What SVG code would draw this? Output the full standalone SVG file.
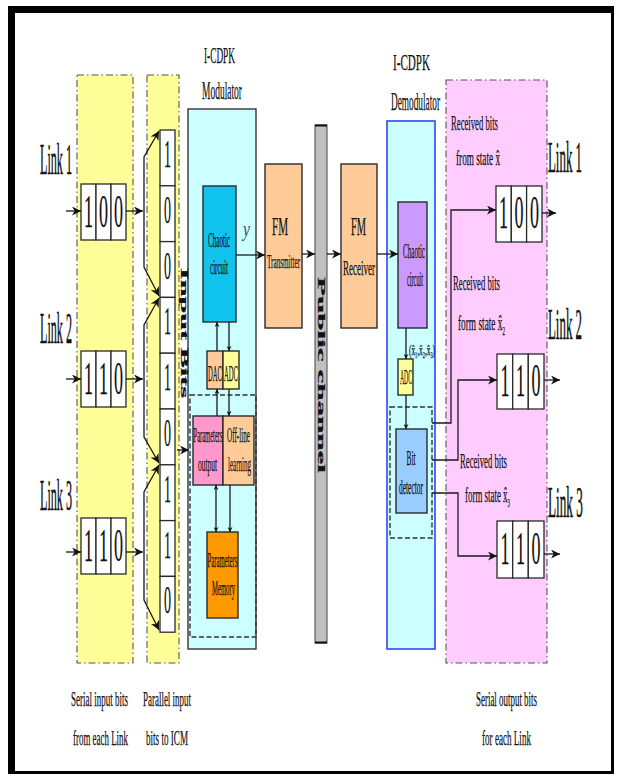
<svg xmlns="http://www.w3.org/2000/svg" width="617" height="777" viewBox="0 0 617 777">
<defs>
<style>
.t{font-family:"Liberation Serif","Times New Roman",serif;fill:#111;stroke:#111;stroke-width:0.25}
.lk{font-family:"Liberation Serif","Times New Roman",serif;fill:#111;stroke:#111;stroke-width:0.6;font-size:44px}
.b{stroke:#2a2a2a;stroke-width:1.4}
.dd{fill:none;stroke:#555;stroke-width:1.1;stroke-dasharray:7,3,1.5,3}
.ds{fill:none;stroke:#333;stroke-width:1.4;stroke-dasharray:5,2.5}
.c{fill:none;stroke:#1a1a1a;stroke-width:1.3}
.cell{fill:#fff;stroke:#2a2a2a;stroke-width:1.3}
</style>
<marker id="ah" viewBox="0 0 10 10" refX="10" refY="5" markerWidth="10" markerHeight="9" markerUnits="userSpaceOnUse" orient="auto-start-reverse"><path d="M0,0 L10,5 L0,10 L3,5 Z" fill="#111"/></marker>
<marker id="as" viewBox="0 0 10 10" refX="10" refY="5" markerWidth="6" markerHeight="5" markerUnits="userSpaceOnUse" orient="auto-start-reverse"><path d="M0,0 L10,5 L0,10 L3,5 Z" fill="#111"/></marker>
</defs>
<rect width="617" height="777" fill="#fff"/>
<g id="frame">
<line x1="11.5" y1="6" x2="11.5" y2="774" stroke="#000" stroke-width="7"/>
<line x1="8" y1="9.5" x2="614" y2="9.5" stroke="#000" stroke-width="7"/>
<line x1="612.5" y1="6" x2="612.5" y2="774" stroke="#000" stroke-width="3"/>
<line x1="8" y1="772.5" x2="614" y2="772.5" stroke="#000" stroke-width="3"/>
</g>

<g id="serial-input-area">
<rect x="77" y="75" width="56" height="588" fill="#ffff99"/>
<rect x="77" y="75" width="56" height="588" class="dd"/>
</g>
<g id="parallel-input-area">
<rect x="147" y="75" width="32" height="588" fill="#ffff99"/>
<rect x="147" y="75" width="32" height="588" class="dd"/>
</g>
<g id="output-area">
<rect x="446" y="80" width="101" height="583" fill="#ffccff"/>
<rect x="446" y="80" width="101" height="583" class="dd"/>
</g>

<g id="modulator">
<rect x="188" y="109" width="68" height="540" fill="#ccffff" stroke="#333" stroke-width="1.4"/>
<text class="t" x="204" y="63" font-size="24" textLength="31" lengthAdjust="spacingAndGlyphs">I-CDPK</text>
<text class="t" x="202" y="99" font-size="26" textLength="40" lengthAdjust="spacingAndGlyphs">Modulator</text>
<rect x="190" y="395" width="66" height="242" class="ds"/>
</g>
<g id="mod-chaotic">
<rect x="203" y="186" width="33" height="136" fill="#11c4ee" class="b"/>
<text class="t" x="208" y="247" font-size="22" textLength="22" lengthAdjust="spacingAndGlyphs">Chaotic</text>
<text class="t" x="210" y="274" font-size="22" textLength="18" lengthAdjust="spacingAndGlyphs">circuit</text>
</g>
<g id="mod-dac">
<rect x="207" y="351" width="16" height="38" fill="#ffcc99" class="b"/>
<text class="t" x="208" y="381" font-size="24" textLength="14" lengthAdjust="spacingAndGlyphs">DAC</text>
</g>
<g id="mod-adc">
<rect x="223" y="351" width="16" height="38" fill="#ffff99" class="b"/>
<text class="t" x="224" y="381" font-size="24" textLength="14" lengthAdjust="spacingAndGlyphs">ADC</text>
</g>
<g id="param-output">
<rect x="193" y="416" width="30" height="69" fill="#ff99cc" class="b"/>
<text class="t" x="193.5" y="442" font-size="21" textLength="29" lengthAdjust="spacingAndGlyphs">Parameters</text>
<text class="t" x="198" y="471" font-size="21" textLength="19" lengthAdjust="spacingAndGlyphs">output</text>
</g>
<g id="offline-learning">
<rect x="223" y="416" width="31" height="69" fill="#ffcc99" class="b"/>
<text class="t" x="227" y="442" font-size="21" textLength="23" lengthAdjust="spacingAndGlyphs">Off-line</text>
<text class="t" x="228" y="471" font-size="21" textLength="23" lengthAdjust="spacingAndGlyphs">learning</text>
</g>
<g id="param-memory">
<rect x="207" y="532" width="31" height="86" fill="#ff9900" class="b"/>
<text class="t" x="207.5" y="567" font-size="21" textLength="30" lengthAdjust="spacingAndGlyphs">Parameters</text>
<text class="t" x="212" y="595" font-size="21" textLength="23" lengthAdjust="spacingAndGlyphs">Memory</text>
</g>

<g id="fm-transmitter">
<rect x="265" y="164" width="37" height="164" fill="#ffcc99" class="b"/>
<text class="t" x="272" y="235" font-size="26" textLength="16" lengthAdjust="spacingAndGlyphs">FM</text>
<text class="t" x="267" y="268" font-size="19" textLength="33" lengthAdjust="spacingAndGlyphs">Transmitter</text>
</g>
<g id="public-channel">
<rect x="315" y="125" width="12" height="518" fill="#c0c0c0" stroke="#444" stroke-width="1"/>
<line x1="315" y1="125.5" x2="327" y2="125.5" stroke="#111" stroke-width="2"/>
<line x1="315" y1="642.5" x2="327" y2="642.5" stroke="#111" stroke-width="2"/>
<text class="t" transform="translate(317.5,277) rotate(90)" x="0" y="0" font-size="11" font-weight="bold" textLength="196" lengthAdjust="spacingAndGlyphs">Public channel</text>
</g>
<g id="fm-receiver">
<rect x="341" y="164" width="36" height="164" fill="#ffcc99" class="b"/>
<text class="t" x="351" y="235" font-size="26" textLength="15" lengthAdjust="spacingAndGlyphs">FM</text>
<text class="t" x="343" y="275" font-size="21" textLength="32" lengthAdjust="spacingAndGlyphs">Receiver</text>
</g>

<g id="demodulator">
<rect x="387" y="121" width="48" height="528" fill="#ccffff" stroke="#3344ff" stroke-width="1.6"/>
<text class="t" x="393" y="70" font-size="24" textLength="37" lengthAdjust="spacingAndGlyphs">I-CDPK</text>
<text class="t" x="391" y="110" font-size="26" textLength="49" lengthAdjust="spacingAndGlyphs">Demodulator</text>
<rect x="390" y="407" width="42" height="131" class="ds"/>
</g>
<g id="demod-chaotic">
<rect x="398" y="202" width="29" height="126" fill="#cc99ff" class="b"/>
<text class="t" x="403" y="258" font-size="22" textLength="22" lengthAdjust="spacingAndGlyphs">Chaotic</text>
<text class="t" x="407" y="286" font-size="22" textLength="16" lengthAdjust="spacingAndGlyphs">circuit</text>
<text class="t" x="409" y="355" font-size="15" textLength="26" lengthAdjust="spacingAndGlyphs">(x̂<tspan font-size="9" dy="3">1</tspan><tspan dy="-3">,x̂</tspan><tspan font-size="9" dy="3">2</tspan><tspan dy="-3">,x̂</tspan><tspan font-size="9" dy="3">3</tspan><tspan dy="-3">)</tspan></text>
</g>
<g id="demod-adc">
<rect x="398" y="359" width="15" height="36" fill="#ffff99" class="b"/>
<text class="t" x="400" y="384" font-size="22" textLength="12" lengthAdjust="spacingAndGlyphs">ADC</text>
</g>
<g id="bit-detector">
<rect x="396" y="429" width="31" height="84" fill="#99ccff" class="b"/>
<text class="t" x="406.5" y="465" font-size="21" textLength="9" lengthAdjust="spacingAndGlyphs">Bit</text>
<text class="t" x="399" y="494" font-size="21" textLength="24" lengthAdjust="spacingAndGlyphs">detector</text>
</g>

<g id="link1-in">
<text class="lk" transform="translate(40,174) scale(0.276,1)">Link 1</text>
<rect x="81" y="184" width="15" height="56" class="cell"/><rect x="96" y="184" width="15" height="56" class="cell"/><rect x="111" y="184" width="15" height="56" class="cell"/>
<text class="t" x="84" y="227" font-size="46" textLength="9" lengthAdjust="spacingAndGlyphs">1</text>
<text class="t" x="99" y="227" font-size="46" textLength="9" lengthAdjust="spacingAndGlyphs">0</text>
<text class="t" x="114" y="227" font-size="46" textLength="9" lengthAdjust="spacingAndGlyphs">0</text>
</g>
<g id="link2-in">
<text class="lk" transform="translate(40,343) scale(0.276,1)">Link 2</text>
<rect x="81" y="351" width="15" height="56" class="cell"/><rect x="96" y="351" width="15" height="56" class="cell"/><rect x="111" y="351" width="15" height="56" class="cell"/>
<text class="t" x="84" y="394" font-size="46" textLength="9" lengthAdjust="spacingAndGlyphs">1</text>
<text class="t" x="99" y="394" font-size="46" textLength="9" lengthAdjust="spacingAndGlyphs">1</text>
<text class="t" x="114" y="394" font-size="46" textLength="9" lengthAdjust="spacingAndGlyphs">0</text>
</g>
<g id="link3-in">
<text class="lk" transform="translate(40,510) scale(0.276,1)">Link 3</text>
<rect x="81" y="518" width="15" height="56" class="cell"/><rect x="96" y="518" width="15" height="56" class="cell"/><rect x="111" y="518" width="15" height="56" class="cell"/>
<text class="t" x="84" y="561" font-size="46" textLength="9" lengthAdjust="spacingAndGlyphs">1</text>
<text class="t" x="99" y="561" font-size="46" textLength="9" lengthAdjust="spacingAndGlyphs">1</text>
<text class="t" x="114" y="561" font-size="46" textLength="9" lengthAdjust="spacingAndGlyphs">0</text>
</g>

<g id="input-bits">
<rect x="160" y="130" width="15" height="55.8" class="cell"/>
<rect x="160" y="185.8" width="15" height="55.8" class="cell"/>
<rect x="160" y="241.6" width="15" height="55.8" class="cell"/>
<rect x="160" y="297.4" width="15" height="55.8" class="cell"/>
<rect x="160" y="353.2" width="15" height="55.8" class="cell"/>
<rect x="160" y="409" width="15" height="55.8" class="cell"/>
<rect x="160" y="464.8" width="15" height="55.8" class="cell"/>
<rect x="160" y="520.6" width="15" height="55.8" class="cell"/>
<rect x="160" y="576.4" width="15" height="55.8" class="cell"/>
<text class="t" x="164" y="167" font-size="40" textLength="7" lengthAdjust="spacingAndGlyphs">1</text>
<text class="t" x="164" y="222.8" font-size="40" textLength="7" lengthAdjust="spacingAndGlyphs">0</text>
<text class="t" x="164" y="278.6" font-size="40" textLength="7" lengthAdjust="spacingAndGlyphs">0</text>
<text class="t" x="164" y="334.4" font-size="40" textLength="7" lengthAdjust="spacingAndGlyphs">1</text>
<text class="t" x="164" y="390.2" font-size="40" textLength="7" lengthAdjust="spacingAndGlyphs">1</text>
<text class="t" x="164" y="446" font-size="40" textLength="7" lengthAdjust="spacingAndGlyphs">0</text>
<text class="t" x="164" y="501.8" font-size="40" textLength="7" lengthAdjust="spacingAndGlyphs">1</text>
<text class="t" x="164" y="557.6" font-size="40" textLength="7" lengthAdjust="spacingAndGlyphs">1</text>
<text class="t" x="164" y="613.4" font-size="40" textLength="7" lengthAdjust="spacingAndGlyphs">0</text>
<text class="t" transform="translate(180.5,268) rotate(90)" x="0" y="0" font-size="9.5" font-weight="bold" textLength="130" lengthAdjust="spacingAndGlyphs">Input Bits</text>
</g>

<g id="link1-out">
<text class="lk" transform="translate(548,172) scale(0.293,1)">Link 1</text>
<rect x="496" y="186" width="15.3" height="56" class="cell"/><rect x="511.3" y="186" width="15.3" height="56" class="cell"/><rect x="526.6" y="186" width="15.4" height="56" class="cell"/>
<text class="t" x="499" y="228" font-size="46" textLength="9" lengthAdjust="spacingAndGlyphs">1</text>
<text class="t" x="514.5" y="228" font-size="46" textLength="9" lengthAdjust="spacingAndGlyphs">0</text>
<text class="t" x="530" y="228" font-size="46" textLength="9" lengthAdjust="spacingAndGlyphs">0</text>
<text class="t" x="451" y="130" font-size="22" textLength="47" lengthAdjust="spacingAndGlyphs">Received bits</text>
<text class="t" x="456" y="165" font-size="22" textLength="44" lengthAdjust="spacingAndGlyphs">from state x̂</text>
</g>
<g id="link2-out">
<text class="lk" transform="translate(548,339) scale(0.293,1)">Link 2</text>
<rect x="497" y="354" width="15.7" height="55" class="cell"/><rect x="512.7" y="354" width="15.6" height="55" class="cell"/><rect x="528.3" y="354" width="15.7" height="55" class="cell"/>
<text class="t" x="500.5" y="396" font-size="46" textLength="9" lengthAdjust="spacingAndGlyphs">1</text>
<text class="t" x="516" y="396" font-size="46" textLength="9" lengthAdjust="spacingAndGlyphs">1</text>
<text class="t" x="531.5" y="396" font-size="46" textLength="9" lengthAdjust="spacingAndGlyphs">0</text>
<text class="t" x="453" y="290" font-size="22" textLength="47" lengthAdjust="spacingAndGlyphs">Received bits</text>
<text class="t" x="458" y="330" font-size="22" textLength="47" lengthAdjust="spacingAndGlyphs">form state x̂<tspan font-size="12" dy="5">2</tspan></text>
</g>
<g id="link3-out">
<text class="lk" transform="translate(548,517) scale(0.3,1)">Link 3</text>
<rect x="497" y="521" width="15.7" height="57" class="cell"/><rect x="512.7" y="521" width="15.6" height="57" class="cell"/><rect x="528.3" y="521" width="15.7" height="57" class="cell"/>
<text class="t" x="500.5" y="564" font-size="46" textLength="9" lengthAdjust="spacingAndGlyphs">1</text>
<text class="t" x="516" y="564" font-size="46" textLength="9" lengthAdjust="spacingAndGlyphs">1</text>
<text class="t" x="531.5" y="564" font-size="46" textLength="9" lengthAdjust="spacingAndGlyphs">0</text>
<text class="t" x="460" y="468" font-size="22" textLength="47" lengthAdjust="spacingAndGlyphs">Received bits</text>
<text class="t" x="465" y="502" font-size="22" textLength="45" lengthAdjust="spacingAndGlyphs">form state x̂<tspan font-size="12" dy="5">3</tspan></text>
</g>

<g id="connectors">
<path class="c" d="M66,211 H81" marker-end="url(#ah)"/>
<path class="c" d="M66,379 H81" marker-end="url(#ah)"/>
<path class="c" d="M66,552 H81" marker-end="url(#ah)"/>
<path class="c" d="M126,211 H143" marker-end="url(#ah)"/>
<path class="c" d="M126,379 H143" marker-end="url(#ah)"/>
<path class="c" d="M126,552 H143" marker-end="url(#ah)"/>
<path class="c" d="M159,131 L144,157 V267 L159,296" marker-start="url(#ah)" marker-end="url(#ah)"/>
<path class="c" d="M159,298 L144,325 V437 L159,463" marker-start="url(#ah)" marker-end="url(#ah)"/>
<path class="c" d="M159,465 L144,492 V600 L159,630" marker-start="url(#ah)" marker-end="url(#ah)"/>
<path class="c" d="M177,450 H189" marker-end="url(#ah)"/>
<path class="c" d="M217,351 V322" marker-end="url(#as)"/>
<path class="c" d="M229,322 V351" marker-end="url(#as)"/>
<path class="c" d="M217,416 V389" marker-end="url(#as)"/>
<path class="c" d="M229,389 V416" marker-end="url(#as)"/>
<path class="c" d="M216,485 V532" marker-start="url(#as)" marker-end="url(#as)"/>
<path class="c" d="M230,485 V532" marker-end="url(#as)"/>
<path class="c" d="M236,255 H265" marker-end="url(#ah)"/>
<text class="t" x="243" y="236" font-size="21" font-style="italic" textLength="7" lengthAdjust="spacingAndGlyphs" style="fill:#3a4a5a;stroke:none">y</text>
<path class="c" d="M302,254 H315" marker-end="url(#ah)"/>
<path class="c" d="M327,254 H341" marker-end="url(#ah)"/>
<path class="c" d="M377,254 H398" marker-end="url(#ah)"/>
<path class="c" d="M406,328 V359" marker-end="url(#as)"/>
<path class="c" d="M406,395 V429" marker-end="url(#as)"/>
<path class="c" d="M432,423 H451 V210 H496" marker-end="url(#ah)"/>
<path class="c" d="M432,460 H458 V380 H497" marker-end="url(#ah)"/>
<path class="c" d="M432,493 H458 V556 H497" marker-end="url(#ah)"/>
<path class="c" d="M542,213 H556" marker-end="url(#ah)"/>
<path class="c" d="M544,380 H560" marker-end="url(#ah)"/>
<path class="c" d="M544,554 H560" marker-end="url(#ah)"/>
</g>

<g id="captions">
<text class="t" x="71" y="706" font-size="22" textLength="57" lengthAdjust="spacingAndGlyphs">Serial input bits</text>
<text class="t" x="73" y="745" font-size="22" textLength="55" lengthAdjust="spacingAndGlyphs">from each Link</text>
<text class="t" x="143" y="706" font-size="22" textLength="48" lengthAdjust="spacingAndGlyphs">Parallel input</text>
<text class="t" x="146" y="745" font-size="22" textLength="42" lengthAdjust="spacingAndGlyphs">bits to ICM</text>
<text class="t" x="476" y="706" font-size="22" textLength="61" lengthAdjust="spacingAndGlyphs">Serial output bits</text>
<text class="t" x="482" y="745" font-size="22" textLength="49" lengthAdjust="spacingAndGlyphs">for each Link</text>
</g>
</svg>
